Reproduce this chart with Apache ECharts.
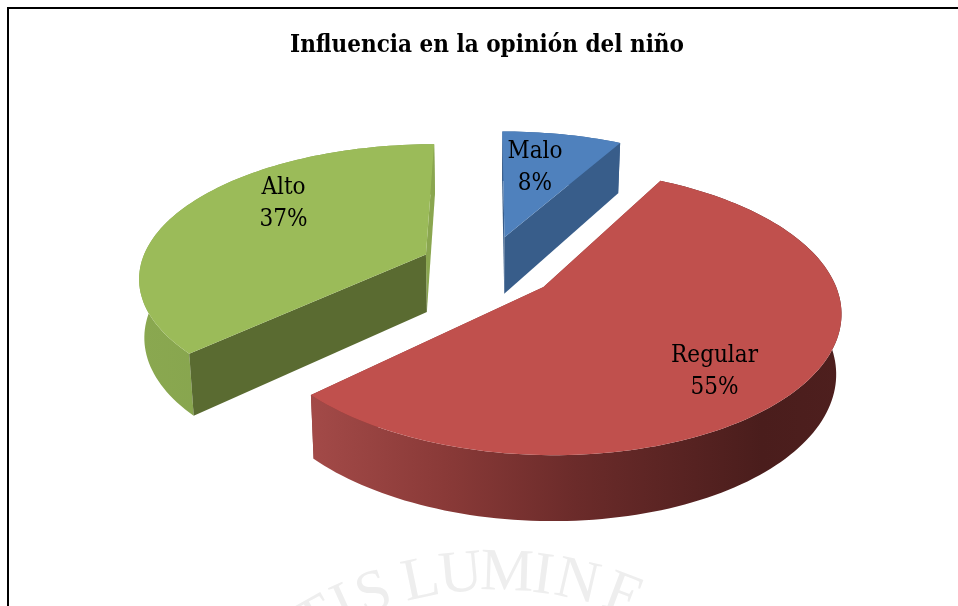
<!DOCTYPE html>
<html><head><meta charset="utf-8">
<style>html,body{margin:0;padding:0;background:#fff}#c{width:958px;height:606px}</style>
<script src="https://cdn.jsdelivr.net/npm/echarts@6/dist/echarts.min.js"></script>
</head><body><div id="c"></div>
<script>
const titleText = 'Influencia en la opinión del niño';
const categories = ['Malo', 'Regular', 'Alto'];
const percents = [8, 55, 37];
const topColors = ['#4f81bd', '#c0504d', '#9bbb59'];
const cutColors = ['#385d8a', '#8a3a38', '#5a6b31'];
const watermarkLetters = ['T', 'I', 'S', 'L', 'U', 'M', 'I', 'N', 'E'];
const watermarkAngles = [-29.5, -24.5, -19.5, -11.8, -5.4, 1.9, 7.6, 13.1, 20.7];

// projection of the tilted, exploded pie
const cx = 488, cy = 267, ax = 286, by = 132.6, kx = 0.155, ky = 0.167, explode = 0.24;
const depth = 58, depthPersp = 0.12, floorScale = 0.985;
const labelRadius = [0.64, 0.755, 0.695], labelTurn = [-3, 9, 14];
const serif = '"DejaVu Serif Condensed","DejaVu Serif",serif';

const total = percents.reduce((a, b) => a + b, 0);
const rad = d => d * Math.PI / 180;
function proj(px, py, floor) {
  let x = cx + ax * px / (1 - kx * py);
  let y = cy + by * py / (1 - ky * py);
  if (floor) { x = cx + (x - cx) * floorScale; y += depth * (1 + depthPersp * py); }
  return [x, y];
}
function rimGradient(i) {
  const stops = i === 1
    ? [['#a34a48', 0], ['#8a3a38', 0.25], ['#6b2b2a', 0.5], ['#4a1d1c', 0.85], ['#4e1f1e', 1]]
    : i === 2 ? [['#8aa850', 0], ['#7f9c48', 1]] : [['#3f6797', 0], ['#3f6797', 1]];
  return new echarts.graphic.LinearGradient(0, 0, 1, 0, stops.map(s => ({ color: s[0], offset: s[1] })));
}
function renderSlice(params, api) {
  const i = params.dataIndex;
  const before = percents.slice(0, i).reduce((a, b) => a + b, 0);
  const t0 = before / total * 360, t1 = t0 + api.value(0) / total * 360, mid = (t0 + t1) / 2;
  const ox = explode * Math.sin(rad(mid)), oy = -explode * Math.cos(rad(mid));
  const pt = (t, r, floor) => proj(ox + r * Math.sin(rad(t)), oy - r * Math.cos(rad(t)), floor);
  const arcTop = [], arcFloor = [];
  const steps = Math.max(8, Math.ceil((t1 - t0) / 1.5));
  for (let s = 0; s <= steps; s++) {
    const t = t0 + (t1 - t0) * s / steps;
    arcTop.push(pt(t, 1, false)); arcFloor.push(pt(t, 1, true));
  }
  const cut = t => [pt(t, 0, false), pt(t, 1, false), pt(t, 1, true), pt(t, 0, true)];
  const poly = (points, fill) => ({ type: 'polygon', shape: { points }, style: { fill } });
  const la = mid + labelTurn[i], lp = pt(la, labelRadius[i], false);
  // outward normal of each cut face: toward the viewer means it is painted after the rim
  const startFront = -Math.cos(rad(t0 - 90)) > 0.1, endFront = -Math.cos(rad(t1 + 90)) > 0.1;
  const sliver = i === 2 ? '#8aa64f' : cutColors[i];
  const back = [], front = [];
  (startFront ? front : back).push(poly(cut(t0), startFront ? cutColors[i] : sliver));
  (endFront ? front : back).push(poly(cut(t1), endFront ? cutColors[i] : sliver));
  return { type: 'group', children: [
    ...back.filter(() => i === 1),
    poly(arcTop.concat(arcFloor.slice().reverse()), rimGradient(i)),
    ...back.filter(() => i !== 1),
    ...front,
    poly([pt(t0, 0, false)].concat(arcTop), topColors[i]),
    { type: 'text', x: lp[0], y: lp[1], z2: 10, style: {
      text: categories[i] + '\n' + api.value(0) + '%', fill: '#000', font: '24px ' + serif,
      align: 'center', verticalAlign: 'middle', lineHeight: 32 } }
  ] };
}
const wmR = 362, wmX = 495, wmY = 936;
const watermark = watermarkLetters.map((ch, i) => {
  const a = rad(watermarkAngles[i]);
  return { type: 'text', x: wmX + wmR * Math.sin(a), y: wmY - wmR * Math.cos(a), rotation: -a, z: 0,
    style: { text: ch, fill: '#eeeeee', font: '60px "Liberation Serif",serif', align: 'center', verticalAlign: 'middle' } };
});
const chart = echarts.init(document.getElementById('c'), null, { renderer: 'canvas' });
chart.setOption({
  animation: false, backgroundColor: '#fff',
  title: { text: titleText, left: 482, top: 29, textAlign: 'center',
    textStyle: { fontFamily: serif, fontWeight: 'bold', fontSize: 24, color: '#000' } },
  graphic: watermark.concat([
    { type: 'rect', shape: { x: 7, y: 7, width: 951, height: 2 }, style: { fill: '#000' } },
    { type: 'rect', shape: { x: 7, y: 7, width: 2, height: 599 }, style: { fill: '#000' } }
  ]),
  series: [{ type: 'custom', coordinateSystem: 'none', renderItem: renderSlice, silent: true,
    data: percents.map((v, i) => ({ name: categories[i], value: v })) }]
});
</script></body></html>
